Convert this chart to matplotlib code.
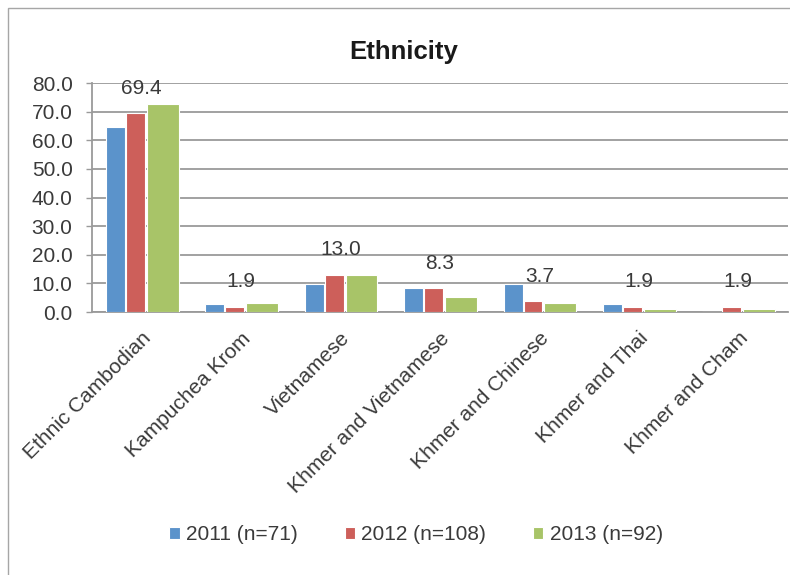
import matplotlib
matplotlib.use("Agg")
import matplotlib.pyplot as plt
from matplotlib.patches import Rectangle
import numpy as np

plt.rcParams['font.family'] = ['Liberation Sans', 'DejaVu Sans']

categories = ["Ethnic Cambodian", "Kampuchea Krom", "Vietnamese",
              "Khmer and Vietnamese", "Khmer and Chinese", "Khmer and Thai",
              "Khmer and Cham"]
series_names = ["2011 (n=71)", "2012 (n=108)", "2013 (n=92)"]
values_2011 = [64.8, 2.8, 9.9, 8.5, 9.9, 2.8, 0.0]
values_2012 = [69.4, 1.9, 13.0, 8.3, 3.7, 1.9, 1.9]
values_2013 = [72.8, 3.3, 13.0, 5.4, 3.3, 1.1, 1.1]
yticks = [0, 10, 20, 30, 40, 50, 60, 70, 80]

colors = ["#5B93CB", "#CD5F5A", "#A8C468"]
offsets = [-0.265, -0.065, 0.21]
widths = [0.19, 0.19, 0.32]

W, H = 790, 575
fig = plt.figure(figsize=(W / 100, H / 100), dpi=100)
text_color = "#3a3a3a"
fs = 15

# chart frame
fig.patches.append(Rectangle((8 / W, -0.05), 1.2, (H - 8) / H + 0.05,
                             transform=fig.transFigure, fill=False,
                             edgecolor="#a6a6a6", linewidth=1.0))

ax = fig.add_axes([92 / W, 1 - 312 / H, (788 - 92) / W, (312 - 83) / H])

x = np.arange(len(categories))
grid_color = "#9a9a9a"
for vals, c, off, w, name in zip([values_2011, values_2012, values_2013],
                                 colors, offsets, widths, series_names):
    ax.bar(x + off, vals, width=w, color=c, edgecolor="white",
           linewidth=0.8, label=name, zorder=3)

# value labels for 2012
for xi, v in zip(x, values_2012):
    ax.annotate(f"{v:.1f}", (xi, v), xytext=(0, 25), textcoords="offset pixels",
                ha="center", va="center", fontsize=fs, color=text_color, zorder=4)

ax.set_xlim(-0.5, len(categories) - 0.5)
ax.set_ylim(0, 80)
ax.set_yticks(yticks)
ax.set_yticklabels([f"{t:.1f}" for t in yticks], fontsize=fs, color=text_color)
ax.yaxis.grid(True, color=grid_color, linewidth=1.3, zorder=0)
ax.set_axisbelow(True)
ax.tick_params(axis="y", length=4, color=grid_color, width=1, pad=10)

ax.set_xticks(x)
ax.set_xticklabels(categories, rotation=45, ha="right", rotation_mode="anchor",
                   fontsize=fs, color=text_color)
ax.tick_params(axis="x", length=0, pad=12)

for side in ["top", "right"]:
    ax.spines[side].set_visible(False)
ax.spines["left"].set_color(grid_color)
ax.spines["left"].set_linewidth(1.3)
ax.spines["bottom"].set_color(grid_color)
ax.spines["bottom"].set_linewidth(1.3)

fig.text(404 / W, 1 - 52 / H, "Ethnicity", ha="center", va="center",
         fontsize=18.5, fontweight="bold", color="#1a1a1a")

handles, labels = ax.get_legend_handles_labels()
leg = fig.legend(handles, labels, loc="center", bbox_to_anchor=(416 / W, 1 - 535 / H),
                 ncol=3, frameon=False, fontsize=fs, handlelength=0.5,
                 handleheight=0.5, handletextpad=0.3, columnspacing=2.25)
for t in leg.get_texts():
    t.set_color(text_color)

fig.savefig("out.png", dpi=100, facecolor="white")
